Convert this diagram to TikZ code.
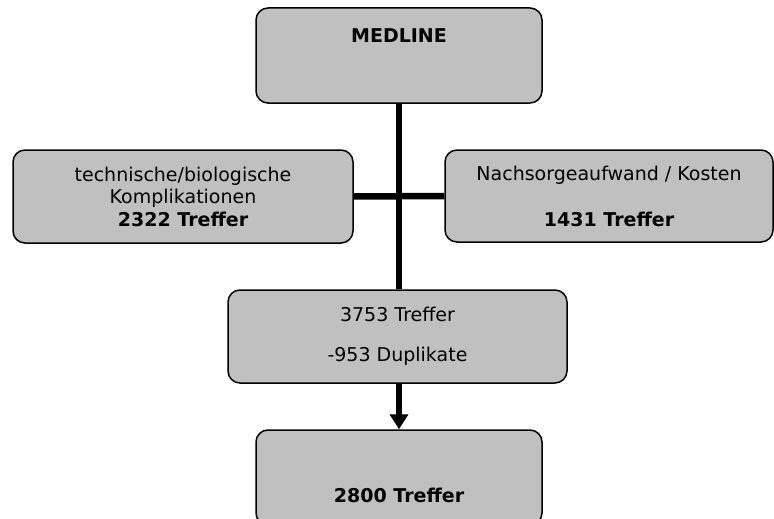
\documentclass[tikz,border=0pt]{standalone}
\usepackage{fontspec}
\setmainfont{DejaVu Sans}
\usetikzlibrary{arrows.meta}
\definecolor{boxgray}{HTML}{C0C0C0}

\begin{document}
\begin{tikzpicture}[x=1pt, y=-1pt, every node/.style={font=\fontsize{19}{22.5}\selectfont}, box/.style={draw, line width=1.5pt, fill=boxgray, rounded corners=12pt, inner sep=0pt, align=center}, link/.style={line width=6.5pt}]
		\path[use as bounding box, clip] (0,0) rectangle (774,519);
		\node[box, minimum width=286pt, minimum height=95pt, text height=20pt, text depth=45pt]	(medline) at (399,55.5) {\textbf{MEDLINE}};
		\node[box, minimum width=340pt, minimum height=93pt]									(tech) at (183,196.5) {technische/biologische\\Komplikationen\\\textbf{2322 Treffer}};
		\node[box, minimum width=328pt, minimum height=92pt]									(kost) at (609,196) {Nachsorgeaufwand / Kosten\\[23.5pt]\textbf{1431 Treffer}};
		\node[box, minimum width=339pt, minimum height=93pt]									(mid) at (397.5,336.5) {3753 Treffer\\[17.5pt]-953 Duplikate};
		\node[box, minimum width=286pt, minimum height=95pt, text height=55pt, text depth=6pt]	(end) at (399,477.5) {\textbf{2800 Treffer}};

		\draw[link] (medline.south) -- (medline.south |- mid.north);
		\draw[link] (tech.east) -- (kost.west);
		\draw[link, -{Triangle[width=18pt, length=15pt]}] (medline.south |- mid.south) -- (medline.south |- end.north);
	\end{tikzpicture}
\end{document}
